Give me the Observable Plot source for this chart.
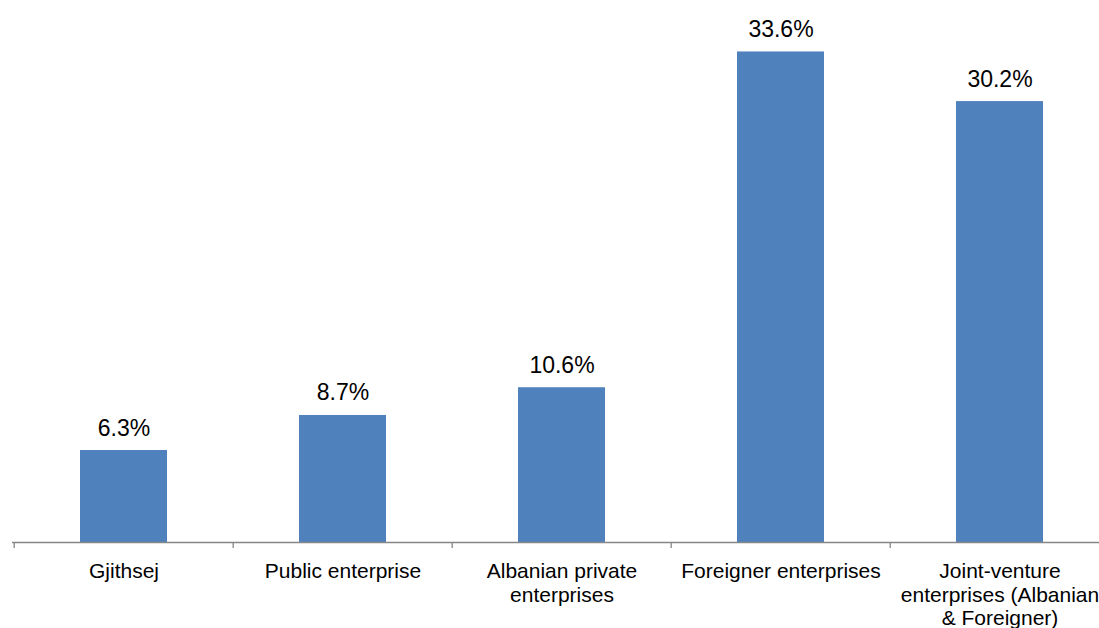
<!DOCTYPE html>
<html>
<head>
<meta charset="utf-8">
<script src="https://cdn.jsdelivr.net/npm/d3@7"></script>
<script src="https://cdn.jsdelivr.net/npm/@observablehq/plot@0.6"></script>
<style>
  html, body { margin: 0; padding: 0; background: #fff; overflow: hidden; width: 1099px; height: 628px; }
  svg { display: block; font-family: "Liberation Sans", Arial, sans-serif; }
</style>
</head>
<body>
<div id="chart"></div>
<script>
const categories = [
  "Gjithsej",
  "Public enterprise",
  "Albanian private enterprises",
  "Foreigner enterprises",
  "Joint-venture enterprises (Albanian & Foreigner)"
];
const tickLabels = [
  "Gjithsej",
  "Public enterprise",
  "Albanian private\nenterprises",
  "Foreigner enterprises",
  "Joint-venture\nenterprises (Albanian\n& Foreigner)"
];
const values = [6.3, 8.7, 10.6, 33.6, 30.2];

const data = categories.map((c, i) => ({category: c, value: values[i], label: values[i].toFixed(1) + "%"}));
const labelOf = new Map(categories.map((c, i) => [c, tickLabels[i]]));

const W = 1099, H = 628;
const mL = 12, mR = -11;
const bw = (W - mL - mR) / categories.length;

const chart = Plot.plot({
  width: W,
  height: H,
  marginLeft: mL,
  marginRight: mR,
  marginTop: 31,
  marginBottom: 86,
  style: {fontFamily: "Liberation Sans, Arial, sans-serif", background: "#fff"},
  x: {domain: categories, padding: 0, axis: null, label: null},
  y: {domain: [0, 35], axis: null, label: null},
  marks: [
    Plot.barY(data, {x: "category", y: "value", fill: "#4F81BD", insetLeft: 66, insetRight: 66}),
    Plot.text(data, {x: "category", y: "value", text: "label", lineAnchor: "bottom", dy: -15, fontSize: 23, fill: "#000"}),
    Plot.ruleY([0], {stroke: "#868686", strokeWidth: 1.3}),
    Plot.axisX({tickSize: 6, dx: -bw / 2, text: null, label: null, stroke: "#868686", strokeWidth: 1.3}),
    Plot.axisX({tickSize: 0, tickPadding: 19, label: null, tickFormat: d => labelOf.get(d), fontSize: 21, lineHeight: 1.12, fill: "#000"})
  ]
});
document.getElementById("chart").appendChild(chart);
</script>
</body>
</html>
